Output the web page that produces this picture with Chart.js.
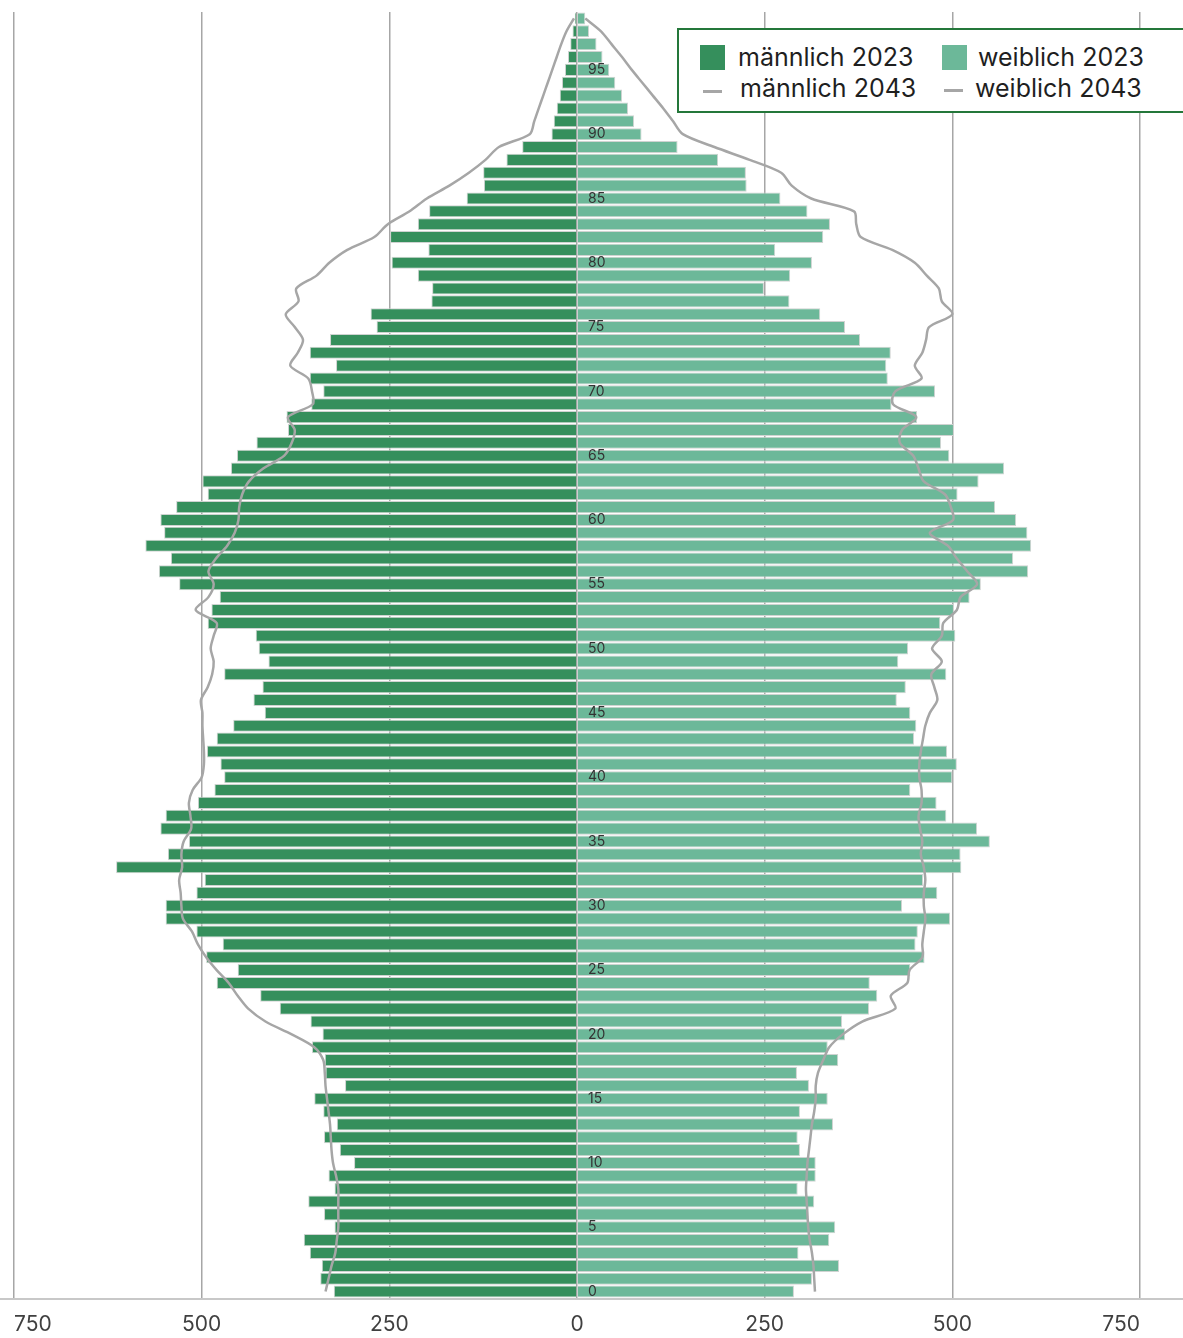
<!DOCTYPE html>
<html>
<head>
<meta charset="utf-8">
<script src="https://cdn.jsdelivr.net/npm/chart.js@4.4.0/dist/chart.umd.min.js"></script>
<style>
  body { margin: 0; background: #fff; overflow: hidden; font-family: Inter, "Open Sans", sans-serif; }
  .wrap { position: relative; width: 1183px; height: 1338px; }
  .legend {
    position: absolute; left: 677px; top: 28px; width: 520px; height: 85px;
    box-sizing: border-box; border: 2px solid #24773a; background: #fff;
  }
  .legend div { position: absolute; }
  .legend .txt { font-size: 25px; line-height: 30px; color: #1f1f1f; white-space: nowrap; }
  .legend .sw { width: 25px; height: 25px; }
  .legend .ln { width: 19px; height: 3px; background: #a6a6a6; }
</style>
</head>
<body>
<div class="wrap">
  <canvas id="pyramid"></canvas>
  <div class="legend">
    <div class="sw" style="left:21px; top:15px; background:#358f5c;"></div>
    <div class="txt" style="left:59px; top:12px;">männlich 2023</div>
    <div class="sw" style="left:263px; top:15px; background:#6cb899;"></div>
    <div class="txt" style="left:299px; top:12px;">weiblich 2023</div>
    <div class="ln" style="left:24px; top:60px;"></div>
    <div class="txt" style="left:61px; top:43px;">männlich 2043</div>
    <div class="ln" style="left:265px; top:59px;"></div>
    <div class="txt" style="left:296px; top:43px;">weiblich 2043</div>
  </div>
</div>

<script>
// ages 0..99
const ages = [];
for (let a = 0; a <= 99; a++) ages.push(String(a));

const ageTicks = [0, 5, 10, 15, 20, 25, 30, 35, 40, 45, 50, 55, 60, 65, 70, 75, 80, 85, 90, 95];
const xTicks = [-750, -500, -250, 0, 250, 500, 750];

// population 2023 (index = age)
const male2023 = [
  324, 342, 340, 356, 364, 323, 337, 358, 323, 331,
  297, 316, 337, 320, 338, 350, 309, 335, 336, 353,
  339, 355, 396, 422, 480, 452, 494, 472, 507, 548,
  548, 507, 496, 614, 545, 517, 555, 548, 505, 483,
  470, 475, 493, 480, 458, 416, 431, 419, 470, 411,
  424, 428, 492, 487, 476, 530, 557, 541, 575, 550,
  555, 534, 492, 499, 461, 453, 427, 385, 387, 354,
  338, 356, 321, 356, 329, 267, 275, 194, 193, 212,
  247, 198, 249, 212, 197, 147, 124, 125, 94, 73,
  34, 31, 27, 23, 20, 16, 12, 9, 6, 3
];
const female2023 = [
  289, 313, 349, 295, 336, 344, 308, 316, 294, 318,
  318, 297, 294, 341, 297, 334, 309, 293, 348, 334,
  357, 353, 389, 400, 390, 444, 463, 451, 454, 497,
  433, 480, 461, 512, 511, 550, 533, 492, 479, 444,
  500, 506, 493, 449, 452, 444, 426, 438, 492, 428,
  441, 504, 484, 502, 523, 538, 601, 581, 605, 600,
  585, 557, 507, 535, 569, 496, 485, 502, 453, 419,
  477, 414, 412, 418, 377, 357, 324, 283, 249, 284,
  313, 264, 328, 337, 307, 271, 226, 225, 188, 134,
  86, 76, 68, 60, 51, 43, 34, 26, 16, 11
];

// projection 2043
const male2043 = [
  335, 331, 327, 322, 320, 318, 318, 318, 318, 321,
  325, 327, 328, 329, 331, 333, 335, 336, 338, 350,
  380, 415, 438, 452, 464, 480, 494, 505, 513, 525,
  527, 528, 530, 526, 527, 524, 514, 515, 517, 512,
  500, 497, 497, 498, 499, 499, 501, 492, 486, 484,
  488, 484, 480, 508, 491, 484, 491, 481, 466, 456,
  451, 450, 446, 437, 418, 390, 380, 376, 385, 352,
  353, 358, 382, 372, 365, 376, 388, 371, 374, 347,
  330, 306, 270, 252, 223, 200, 170, 144, 122, 104,
  63, 57, 51, 45, 39, 33, 27, 21, 14, 4
];
const female2043 = [
  317, 316, 315, 313, 310, 308, 307, 306, 305, 306,
  307, 309, 311, 313, 316, 318, 318, 321, 328, 336,
  354, 380, 424, 418, 440, 443, 460, 460, 462, 464,
  462, 462, 464, 462, 458, 460, 457, 455, 459, 459,
  456, 456, 458, 461, 464, 470, 480, 476, 472, 486,
  473, 486, 488, 506, 511, 533, 520, 506, 494, 470,
  501, 498, 490, 462, 455, 448, 430, 433, 452, 421,
  424, 459, 450, 460, 465, 469, 500, 486, 482, 466,
  450, 420, 378, 372, 369, 312, 286, 272, 230, 183,
  141, 128, 115, 101, 87, 73, 60, 46, 32, 11
];

// bottom axis line across the full width, age labels beside the zero line
const pyramidDecor = {
  id: 'pyramidDecor',
  beforeDatasetsDraw(chart) {
    const { ctx, chartArea } = chart;
    ctx.save();
    ctx.strokeStyle = '#c8c8c8';
    ctx.lineWidth = 2;
    ctx.beginPath();
    ctx.moveTo(0, chartArea.bottom + 1);
    ctx.lineTo(chart.width, chartArea.bottom + 1);
    ctx.stroke();
    ctx.restore();
  },
  afterDatasetsDraw(chart) {
    const { ctx, scales: { x, y } } = chart;
    const x0 = x.getPixelForValue(0) + 11;
    ctx.save();
    ctx.font = '14px Inter, sans-serif';
    ctx.fillStyle = '#333333';
    ctx.textAlign = 'left';
    ctx.textBaseline = 'middle';
    ageTicks.forEach(a => {
      ctx.fillText(String(a), x0, y.getPixelForValue(a));
    });
    ctx.restore();
  }
};

const ctx = document.getElementById('pyramid').getContext('2d');
new Chart(ctx, {
  type: 'bar',
  data: {
    labels: ages,
    datasets: [
      {
        label: 'männlich 2023',
        data: male2023.map(v => -v),
        backgroundColor: '#358f5c',
        borderColor: '#cfd3d1',
        borderWidth: 1,
        grouped: false,
        barPercentage: 0.94,
        categoryPercentage: 1.0,
        order: 2
      },
      {
        label: 'weiblich 2023',
        data: female2023,
        backgroundColor: '#6cb899',
        borderColor: '#cfd3d1',
        borderWidth: 1,
        grouped: false,
        barPercentage: 0.94,
        categoryPercentage: 1.0,
        order: 2
      },
      {
        type: 'line',
        label: 'männlich 2043',
        data: male2043.map(v => -v),
        borderColor: '#a6a6a6',
        borderWidth: 2.5,
        pointRadius: 0,
        tension: 0.3,
        fill: false,
        order: 0
      },
      {
        type: 'line',
        label: 'weiblich 2043',
        data: female2043,
        borderColor: '#a6a6a6',
        borderWidth: 2.5,
        pointRadius: 0,
        tension: 0.3,
        fill: false,
        order: 0
      }
    ]
  },
  options: {
    indexAxis: 'y',
    responsive: true,
    maintainAspectRatio: false,
    animation: false,
    layout: {
      padding: { left: 7, right: 43, top: 12, bottom: 0 }
    },
    scales: {
      x: {
        type: 'linear',
        min: -750,
        max: 750,
        afterBuildTicks(scale) {
          scale.ticks = xTicks.map(v => ({ value: v }));
        },
        afterFit(scale) {
          scale.height = 40;
        },
        grid: {
          color: '#a6a6a6',
          lineWidth: 1.5,
          drawTicks: false
        },
        border: { display: false },
        ticks: {
          align: 'inner',
          padding: 14,
          color: '#404040',
          font: { size: 21, family: 'Inter, sans-serif' },
          callback: value => String(Math.abs(value))
        }
      },
      y: {
        type: 'category',
        reverse: true,
        display: false,
        grid: { display: false }
      }
    },
    plugins: {
      legend: { display: false },
      tooltip: { enabled: false }
    }
  },
  plugins: [pyramidDecor]
});
</script>
</body>
</html>
